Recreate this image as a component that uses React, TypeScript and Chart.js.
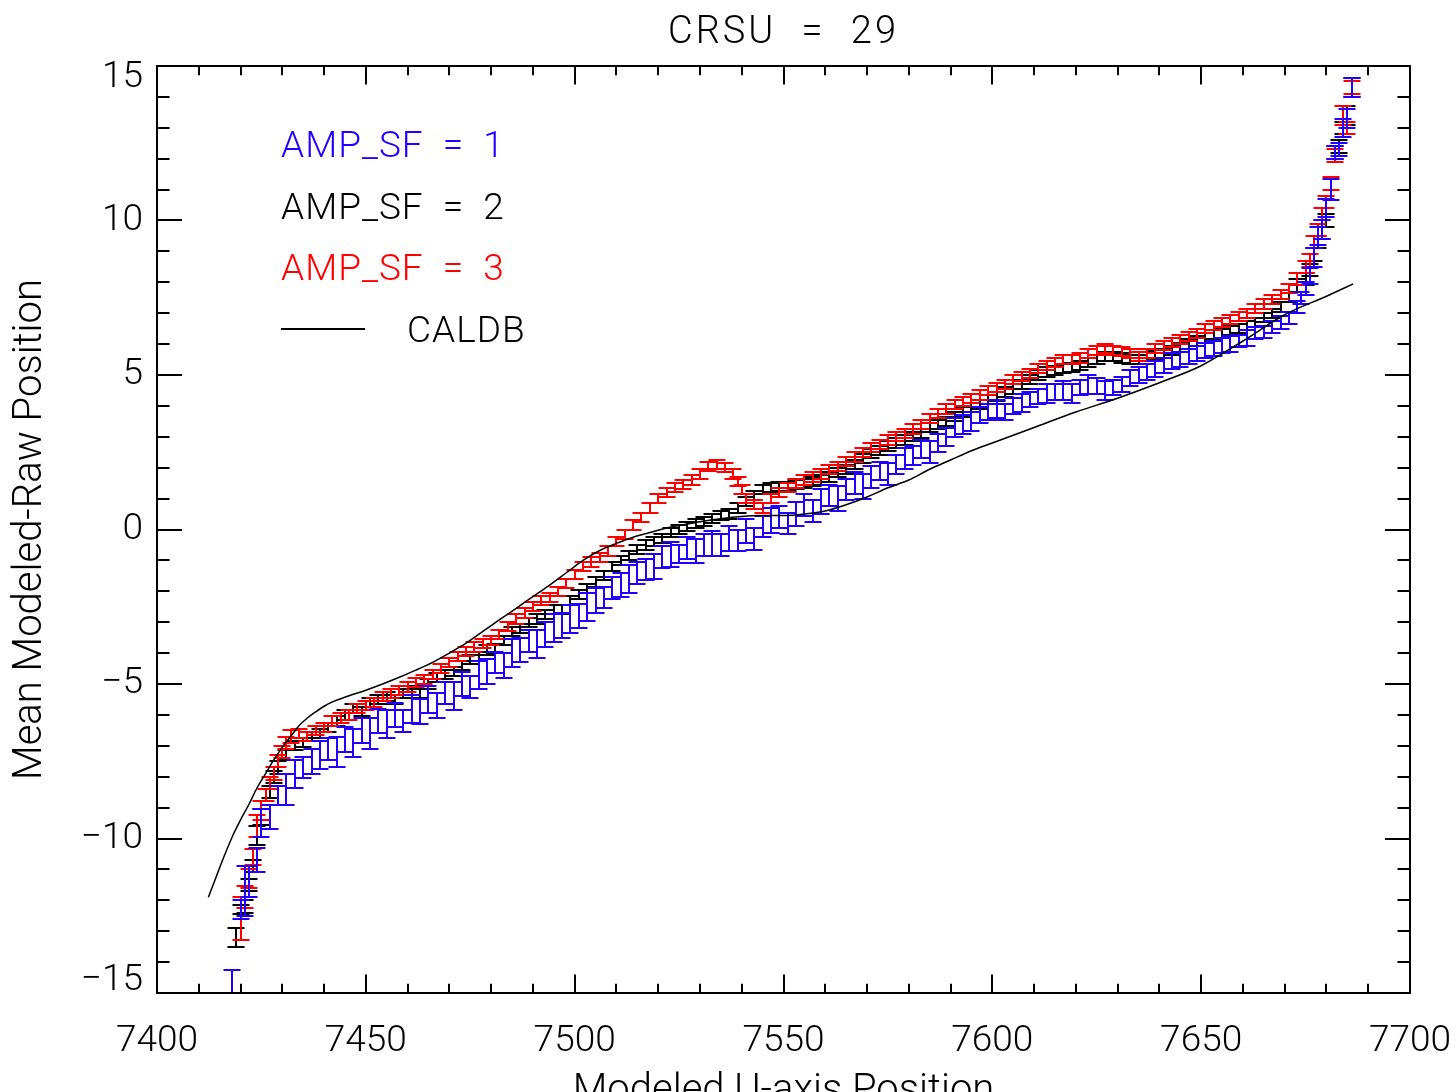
import React, { useEffect, useRef } from 'react';
import { Chart, registerables } from 'chart.js';

Chart.register(...registerables);

// ---------- text ----------
const TITLE = 'CRSU = 29';
const X_TITLE = 'Modeled U-axis Position';
const Y_TITLE = 'Mean Modeled-Raw Position';
const SERIES_LABELS = ['AMP_SF = 1', 'AMP_SF = 2', 'AMP_SF = 3'];
const CALDB_LABEL = 'CALDB';

// ---------- axes ----------
const X_MIN = 7400;
const X_MAX = 7700;
const X_MAJOR = 50;
const X_MINOR = 10;
const Y_MIN = -15;
const Y_MAX = 15;
const Y_MAJOR = 5;
const Y_MINOR = 1;

// ---------- AMP_SF = 1 (blue) ----------
const B_X = [
  7418, 7420, 7421, 7422, 7424, 7425, 7427, 7429, 7431, 7433,
  7435, 7437, 7439, 7441, 7443, 7445, 7447, 7449, 7451, 7453,
  7455, 7457, 7459, 7461, 7463, 7465, 7467, 7469, 7471, 7473,
  7475, 7477, 7479, 7481, 7483, 7485, 7487, 7489, 7491, 7493,
  7495, 7497, 7499, 7501, 7503, 7505, 7507, 7509, 7511, 7513,
  7515, 7517, 7519, 7521, 7523, 7525, 7527, 7529, 7531, 7533,
  7535, 7537, 7539, 7541, 7543, 7545, 7547, 7549, 7551, 7553,
  7555, 7557, 7559, 7561, 7563, 7565, 7567, 7569, 7571, 7573,
  7575, 7577, 7579, 7581, 7583, 7585, 7587, 7589, 7591, 7593,
  7595, 7597, 7599, 7601, 7603, 7605, 7607, 7609, 7611, 7613,
  7615, 7617, 7619, 7621, 7623, 7625, 7627, 7629, 7631, 7633,
  7635, 7637, 7639, 7641, 7643, 7645, 7647, 7649, 7651, 7653,
  7655, 7657, 7659, 7661, 7663, 7665, 7667, 7669, 7671, 7673,
  7674, 7675, 7676, 7677, 7678, 7679, 7680, 7681, 7682, 7683,
  7684, 7685, 7686, 7688,
];
const B_Y = [
  -14.9, -12.3, -11.7, -11.4, -10.7, -9.5, -9.3, -8.6, -8.4, -7.9,
  -7.7, -7.5, -7.3, -7.1, -7.2, -6.8, -6.9, -6.5, -6.6, -6.2,
  -6.3, -6.0, -6.2, -5.8, -5.9, -5.5, -5.7, -5.3, -5.4, -5.0,
  -5.1, -4.7, -4.6, -4.3, -4.4, -4.0, -3.9, -3.6, -3.7, -3.4,
  -3.2, -3.1, -2.9, -2.8, -2.5, -2.3, -2.2, -1.9, -1.8, -1.6,
  -1.4, -1.3, -1.2, -0.9, -0.8, -0.8, -0.6, -0.7, -0.5, -0.45,
  -0.5, -0.3, -0.35, -0.05, -0.3, 0.1, 0.3, 0.4, 0.2, 0.5,
  0.8, 0.6, 0.9, 1.1, 1.0, 1.3, 1.5, 1.4, 1.7, 1.9,
  1.8, 2.1, 2.3, 2.4, 2.6, 2.5, 2.8, 3.0, 3.3, 3.4,
  3.5, 3.7, 3.8, 3.9, 3.8, 4.0, 4.1, 4.2, 4.3, 4.4,
  4.45, 4.5, 4.4, 4.6, 4.7, 4.65, 4.5, 4.6, 4.7, 4.9,
  5.0, 5.1, 5.2, 5.3, 5.45, 5.5, 5.6, 5.7, 5.8, 5.85,
  5.95, 6.0, 6.1, 6.2, 6.35, 6.4, 6.55, 6.7, 6.85, 7.2,
  7.5, 7.8, 8.2, 8.8, 9.5, 9.7, 10.4, 11.0, 12.2, 12.3,
  13.0, 13.3, 14.3, 15.4,
];
const B_ERR = [
  0.65, 0.3, 0.8, 0.5, 0.4, 0.45, 0.4, 0.3, 0.5, 0.45,
  0.35, 0.4, 0.45, 0.35, 0.5, 0.4, 0.45, 0.4, 0.5, 0.4,
  0.45, 0.4, 0.35, 0.45, 0.4, 0.45, 0.4, 0.35, 0.45, 0.4,
  0.35, 0.45, 0.4, 0.35, 0.4, 0.45, 0.4, 0.35, 0.45, 0.4,
  0.45, 0.4, 0.45, 0.4, 0.45, 0.4, 0.35, 0.35, 0.4, 0.45,
  0.35, 0.35, 0.4, 0.35, 0.4, 0.3, 0.35, 0.4, 0.35, 0.4,
  0.35, 0.4, 0.35, 0.4, 0.35, 0.35, 0.4, 0.35, 0.35, 0.4,
  0.35, 0.35, 0.4, 0.35, 0.4, 0.35, 0.35, 0.4, 0.35, 0.3,
  0.35, 0.3, 0.35, 0.3, 0.3, 0.35, 0.3, 0.3, 0.3, 0.3,
  0.3, 0.25, 0.25, 0.3, 0.25, 0.25, 0.3, 0.25, 0.25, 0.3,
  0.25, 0.3, 0.3, 0.25, 0.3, 0.25, 0.3, 0.25, 0.25, 0.25,
  0.25, 0.25, 0.25, 0.25, 0.25, 0.25, 0.25, 0.25, 0.25, 0.25,
  0.25, 0.25, 0.2, 0.25, 0.2, 0.2, 0.2, 0.2, 0.2, 0.2,
  0.2, 0.2, 0.25, 0.3, 0.3, 0.3, 0.3, 0.35, 0.2, 0.2,
  0.3, 0.3, 0.3, 0.4,
];

// ---------- AMP_SF = 2 (black) ----------
const K_X = [
  7419, 7420, 7421, 7422, 7423, 7424, 7425, 7427, 7428, 7429,
  7431, 7433, 7435, 7437, 7439, 7441, 7443, 7445, 7447, 7449,
  7451, 7453, 7455, 7457, 7459, 7461, 7463, 7465, 7467, 7469,
  7471, 7473, 7475, 7477, 7479, 7481, 7483, 7485, 7487, 7489,
  7491, 7493, 7495, 7497, 7499, 7501, 7503, 7505, 7507, 7509,
  7511, 7513, 7515, 7517, 7519, 7521, 7523, 7525, 7527, 7529,
  7531, 7533, 7535, 7537, 7539, 7541, 7543, 7545, 7547, 7549,
  7551, 7553, 7555, 7557, 7559, 7561, 7563, 7565, 7567, 7569,
  7571, 7573, 7575, 7577, 7579, 7581, 7583, 7585, 7587, 7589,
  7591, 7593, 7595, 7597, 7599, 7601, 7603, 7605, 7607, 7609,
  7611, 7613, 7615, 7617, 7619, 7621, 7623, 7625, 7627, 7629,
  7631, 7633, 7635, 7637, 7639, 7641, 7643, 7645, 7647, 7649,
  7651, 7653, 7655, 7657, 7659, 7661, 7663, 7665, 7667, 7669,
  7671, 7673, 7675, 7676, 7677, 7678, 7679, 7680, 7682, 7683,
  7684, 7685, 7686,
];
const K_Y = [
  -13.2, -12.3, -12.2, -11.5, -10.9, -9.9, -9.3, -8.5, -8.0, -7.7,
  -7.3, -7.0, -6.9, -6.7, -6.6, -6.4, -6.2, -6.0, -5.8, -5.9,
  -5.6, -5.5, -5.4, -5.5, -5.3, -5.2, -5.3, -5.0, -4.8, -4.7,
  -4.6, -4.4, -4.2, -4.1, -3.9, -3.85, -3.6, -3.3, -3.2, -3.0,
  -2.9, -2.75, -2.6, -2.6, -2.3, -2.1, -1.9, -1.7, -1.5, -1.2,
  -1.0, -0.85, -0.65, -0.5, -0.4, -0.3, -0.1, 0.0, 0.1, 0.2,
  0.25, 0.35, 0.45, 0.5, 0.7, 0.9, 1.1, 1.3, 1.35, 1.4,
  1.4, 1.45, 1.5, 1.55, 1.6, 1.7, 1.85, 1.95, 2.1, 2.3,
  2.45, 2.55, 2.7, 2.8, 2.9, 3.0, 3.1, 3.3, 3.4, 3.5,
  3.65, 3.8, 3.95, 4.05, 4.2, 4.3, 4.45, 4.55, 4.7, 4.85,
  5.0, 5.1, 5.15, 5.2, 5.25, 5.3, 5.4, 5.5, 5.6, 5.6,
  5.55, 5.5, 5.5, 5.6, 5.65, 5.7, 5.8, 5.9, 6.0, 6.1,
  6.2, 6.3, 6.35, 6.45, 6.5, 6.6, 6.7, 6.85, 7.0, 7.2,
  7.5, 7.9, 8.1, 8.4, 8.9, 9.3, 9.6, 10.0, 12.2, 12.4,
  13.0, 13.4, 14.3,
];
const K_ERR = [
  0.3, 0.15, 0.2, 0.2, 0.2, 0.3, 0.25, 0.2, 0.2, 0.2,
  0.15, 0.15, 0.15, 0.15, 0.15, 0.15, 0.15, 0.15, 0.15, 0.15,
  0.15, 0.15, 0.15, 0.15, 0.15, 0.15, 0.15, 0.15, 0.15, 0.15,
  0.15, 0.15, 0.15, 0.15, 0.15, 0.15, 0.15, 0.15, 0.15, 0.15,
  0.15, 0.15, 0.15, 0.15, 0.15, 0.15, 0.15, 0.15, 0.15, 0.15,
  0.15, 0.15, 0.15, 0.15, 0.15, 0.15, 0.15, 0.15, 0.15, 0.15,
  0.15, 0.15, 0.15, 0.15, 0.15, 0.15, 0.15, 0.15, 0.15, 0.15,
  0.15, 0.15, 0.15, 0.15, 0.15, 0.15, 0.15, 0.15, 0.15, 0.15,
  0.15, 0.15, 0.15, 0.15, 0.15, 0.15, 0.15, 0.15, 0.15, 0.15,
  0.15, 0.15, 0.15, 0.15, 0.15, 0.15, 0.15, 0.15, 0.15, 0.15,
  0.15, 0.15, 0.15, 0.15, 0.15, 0.15, 0.15, 0.15, 0.15, 0.15,
  0.15, 0.15, 0.15, 0.15, 0.15, 0.15, 0.15, 0.15, 0.15, 0.15,
  0.15, 0.15, 0.15, 0.15, 0.15, 0.15, 0.15, 0.15, 0.15, 0.15,
  0.15, 0.2, 0.2, 0.2, 0.2, 0.2, 0.2, 0.2, 0.2, 0.2,
  0.2, 0.3, 0.3,
];

// ---------- AMP_SF = 3 (red) ----------
const R_X = [
  7418, 7420, 7421, 7422, 7423, 7424, 7425, 7426, 7427, 7428,
  7429, 7430, 7431, 7432, 7434, 7436, 7438, 7440, 7442, 7444,
  7446, 7448, 7450, 7452, 7454, 7456, 7458, 7460, 7462, 7464,
  7466, 7468, 7470, 7472, 7474, 7476, 7478, 7480, 7482, 7484,
  7486, 7488, 7490, 7492, 7494, 7496, 7498, 7500, 7502, 7504,
  7506, 7508, 7510, 7512, 7514, 7516, 7518, 7520, 7522, 7524,
  7526, 7528, 7530, 7532, 7534, 7536, 7538, 7539, 7540, 7541,
  7543, 7545, 7547, 7549, 7551, 7553, 7555, 7557, 7559, 7561,
  7563, 7565, 7567, 7569, 7571, 7573, 7575, 7577, 7579, 7581,
  7583, 7585, 7587, 7589, 7591, 7593, 7595, 7597, 7599, 7601,
  7603, 7605, 7607, 7609, 7611, 7613, 7615, 7617, 7619, 7621,
  7623, 7625, 7627, 7629, 7631, 7633, 7635, 7637, 7639, 7641,
  7643, 7645, 7647, 7649, 7651, 7653, 7655, 7657, 7659, 7661,
  7663, 7665, 7667, 7669, 7671, 7673, 7675, 7676, 7677, 7678,
  7679, 7680, 7681, 7682, 7684, 7685, 7686,
];
const R_Y = [
  -15.3, -12.6, -11.9, -11.3, -10.6, -9.6, -9.1, -8.6, -8.2, -7.9,
  -7.5, -7.2, -6.9, -6.7, -6.6, -6.7, -6.5, -6.4, -6.2, -6.1,
  -6.0, -5.8, -5.7, -5.6, -5.4, -5.3, -5.2, -5.1, -4.95, -4.85,
  -4.7, -4.5, -4.3, -4.1, -3.95, -3.8, -3.7, -3.6, -3.4, -3.15,
  -2.9, -2.7, -2.5, -2.3, -2.2, -2.0, -1.75, -1.45, -1.2, -1.05,
  -0.9, -0.7, -0.4, -0.15, 0.15, 0.4, 0.7, 1.0, 1.2, 1.35,
  1.45, 1.6, 1.8, 2.05, 2.1, 2.0, 1.8, 1.55, 1.3, 1.0,
  0.8, 0.7, 1.0, 1.2, 1.35, 1.5, 1.6, 1.7, 1.8, 1.95,
  2.05, 2.2, 2.35, 2.5, 2.65, 2.75, 2.9, 3.0, 3.1, 3.25,
  3.4, 3.6, 3.75, 3.9, 4.05, 4.15, 4.25, 4.35, 4.5, 4.6,
  4.7, 4.85, 4.95, 5.05, 5.2, 5.3, 5.4, 5.5, 5.5, 5.55,
  5.7, 5.8, 5.85, 5.8, 5.75, 5.7, 5.6, 5.7, 5.85, 5.95,
  6.05, 6.15, 6.25, 6.35, 6.5, 6.6, 6.7, 6.8, 6.9, 7.0,
  7.15, 7.3, 7.45, 7.6, 7.8, 8.1, 8.5, 8.7, 9.3, 9.7,
  10.2, 10.6, 11.2, 12.1, 13.4, 13.0, 14.3,
];
const R_ERR = [
  0.3, 0.7, 0.35, 0.3, 0.25, 0.35, 0.3, 0.2, 0.2, 0.2,
  0.2, 0.2, 0.2, 0.2, 0.15, 0.15, 0.15, 0.15, 0.15, 0.15,
  0.15, 0.15, 0.15, 0.15, 0.15, 0.15, 0.15, 0.15, 0.15, 0.15,
  0.15, 0.15, 0.15, 0.15, 0.15, 0.15, 0.15, 0.15, 0.15, 0.15,
  0.15, 0.15, 0.15, 0.15, 0.15, 0.15, 0.15, 0.15, 0.15, 0.15,
  0.15, 0.15, 0.15, 0.15, 0.15, 0.15, 0.15, 0.15, 0.15, 0.15,
  0.15, 0.15, 0.15, 0.15, 0.15, 0.15, 0.15, 0.15, 0.15, 0.15,
  0.15, 0.15, 0.15, 0.15, 0.15, 0.15, 0.15, 0.15, 0.15, 0.15,
  0.15, 0.15, 0.15, 0.15, 0.15, 0.15, 0.15, 0.15, 0.15, 0.15,
  0.15, 0.15, 0.15, 0.15, 0.15, 0.15, 0.15, 0.15, 0.15, 0.15,
  0.15, 0.15, 0.15, 0.15, 0.15, 0.15, 0.15, 0.15, 0.15, 0.15,
  0.15, 0.15, 0.15, 0.15, 0.15, 0.15, 0.15, 0.15, 0.15, 0.15,
  0.15, 0.15, 0.15, 0.15, 0.15, 0.15, 0.15, 0.15, 0.15, 0.15,
  0.15, 0.15, 0.15, 0.15, 0.15, 0.2, 0.2, 0.2, 0.2, 0.2,
  0.2, 0.2, 0.2, 0.2, 0.3, 0.2, 0.2,
];

// ---------- CALDB curve ----------
const C_X = [
  7412.3, 7414, 7416, 7418, 7420, 7422, 7424, 7426, 7428, 7430,
  7432, 7434, 7436, 7438, 7440, 7442, 7446, 7450, 7454, 7458,
  7462, 7466, 7470, 7474, 7478, 7482, 7486, 7490, 7494, 7498,
  7502, 7506, 7510, 7514, 7518, 7522, 7526, 7530, 7535, 7540,
  7545, 7550, 7555, 7560, 7565, 7570, 7575, 7580, 7585, 7590,
  7595, 7600, 7610, 7620, 7630, 7640, 7650, 7660, 7670, 7680,
  7686.4,
];
const C_Y = [
  -11.9, -11.3, -10.6, -9.95, -9.4, -8.9, -8.35, -7.9, -7.45, -7.05,
  -6.7, -6.35, -6.1, -5.9, -5.72, -5.58, -5.38, -5.2, -5.0, -4.78,
  -4.55, -4.3, -4.0, -3.68, -3.3, -2.92, -2.55, -2.17, -1.8, -1.4,
  -1.0, -0.68, -0.45, -0.25, -0.1, 0.05, 0.15, 0.25, 0.35, 0.42,
  0.45, 0.45, 0.5, 0.6, 0.8, 1.05, 1.35, 1.6, 1.95, 2.25,
  2.55, 2.8, 3.3, 3.8, 4.25, 4.75, 5.3, 6.1, 6.95, 7.55,
  7.95,
];

const COLORS = ['#2200ff', '#000000', '#ff0000'];
const FONT_FAMILY = 'Roboto, "Liberation Sans", sans-serif';
const FONT_WEIGHT = '300';

const CAP = 8.5;
const ERR_LW = 2;

function zipPoints(xs: number[], ys: number[], es: number[]) {
  const n = Math.min(xs.length, ys.length, es.length);
  const out: { x: number; y: number; e: number }[] = [];
  for (let i = 0; i < n; i++) out.push({ x: xs[i], y: ys[i], e: es[i] });
  return out;
}
function zipLine(xs: number[], ys: number[]) {
  const n = Math.min(xs.length, ys.length);
  const out: { x: number; y: number }[] = [];
  for (let i = 0; i < n; i++) out.push({ x: xs[i], y: ys[i] });
  return out;
}

const errorBarPlugin = {
  id: 'errorBars',
  afterDatasetDraw(chart: any, args: any) {
    const ds = chart.data.datasets[args.index];
    if (!ds.isErr) return;
    const ctx = chart.ctx;
    const ys = chart.scales.y;
    const a = chart.chartArea;
    ctx.save();
    ctx.beginPath();
    ctx.rect(a.left, a.top - 1, a.right - a.left, a.bottom - a.top + 2);
    ctx.clip();
    ctx.strokeStyle = ds.borderColor;
    ctx.lineWidth = ERR_LW;
    ctx.beginPath();
    args.meta.data.forEach((pt: any, i: number) => {
      const d = ds.data[i];
      if (!d) return;
      const px = Math.round(pt.x);
      const y1 = Math.round(ys.getPixelForValue(d.y - d.e));
      const y2 = Math.round(ys.getPixelForValue(d.y + d.e));
      ctx.moveTo(px, y1);
      ctx.lineTo(px, y2);
      ctx.moveTo(px - CAP, y1);
      ctx.lineTo(px + CAP, y1);
      ctx.moveTo(px - CAP, y2);
      ctx.lineTo(px + CAP, y2);
    });
    ctx.stroke();
    ctx.restore();
  },
};

function setSpacing(ctx: any, letter: string, word: string) {
  try { ctx.letterSpacing = letter; } catch (e) {}
  try { ctx.wordSpacing = word; } catch (e) {}
}

const framePlugin = {
  id: 'frameTicks',
  afterDraw(chart: any) {
    const ctx = chart.ctx;
    const a = chart.chartArea;
    const xs = chart.scales.x;
    const ys = chart.scales.y;
    const w = a.right - a.left;
    const h = a.bottom - a.top;
    const xMajLen = 0.02 * h;
    const xMinLen = 0.01 * h;
    const yMajLen = 0.02 * w;
    const yMinLen = 0.01 * w;
    ctx.save();
    ctx.strokeStyle = '#000';
    ctx.lineWidth = 2;
    ctx.strokeRect(a.left, a.top, w, h);
    ctx.beginPath();
    for (let v = X_MIN; v <= X_MAX + 1e-9; v += X_MINOR) {
      const px = Math.round(xs.getPixelForValue(v));
      const major = Math.abs((v - X_MIN) % X_MAJOR) < 1e-9;
      const len = major ? xMajLen : xMinLen;
      ctx.moveTo(px, a.bottom);
      ctx.lineTo(px, a.bottom - len);
      ctx.moveTo(px, a.top);
      ctx.lineTo(px, a.top + len);
    }
    for (let v = Y_MIN; v <= Y_MAX + 1e-9; v += Y_MINOR) {
      const py = Math.round(ys.getPixelForValue(v));
      const major = Math.abs((v - Y_MIN) % Y_MAJOR) < 1e-9;
      const len = major ? yMajLen : yMinLen;
      ctx.moveTo(a.left, py);
      ctx.lineTo(a.left + len, py);
      ctx.moveTo(a.right, py);
      ctx.lineTo(a.right - len, py);
    }
    ctx.stroke();

    // title
    ctx.fillStyle = '#000';
    ctx.font = `${FONT_WEIGHT} 38px ${FONT_FAMILY}`;
    ctx.textAlign = 'center';
    ctx.textBaseline = 'middle';
    setSpacing(ctx, '3px', '13px');
    ctx.fillText(TITLE, (a.left + a.right) / 2, 33);

    // legend
    setSpacing(ctx, '1px', '9px');
    ctx.font = `${FONT_WEIGHT} 37px ${FONT_FAMILY}`;
    ctx.textAlign = 'left';
    const lx = 281;
    const rows = [148, 210, 271];
    SERIES_LABELS.forEach((lab, i) => {
      ctx.fillStyle = COLORS[i];
      ctx.fillText(lab, lx, rows[i]);
    });
    ctx.strokeStyle = '#000';
    ctx.lineWidth = 2;
    ctx.beginPath();
    ctx.moveTo(lx, 329);
    ctx.lineTo(365, 329);
    ctx.stroke();
    ctx.fillStyle = '#000';
    ctx.fillText(CALDB_LABEL, 407, 333);
    setSpacing(ctx, '0px', '0px');
    ctx.restore();
  },
};

const minus = (n: number) => (n < 0 ? '\u2212' + Math.abs(n) : String(n));
const xTickFmt = (v: any) => minus(Number(v));
// edge labels nudged inward like the original plot (blank second line)
const yTickFmt = (v: any) => {
  const n = Number(v);
  if (n === Y_MAX) return ['', minus(n)];
  if (n === Y_MIN) return [minus(n), ''];
  return minus(n);
};

export default function App() {
  const ref = useRef<HTMLCanvasElement | null>(null);
  useEffect(() => {
    if (!ref.current) return;
    const xTickFont = { family: FONT_FAMILY, size: 37, weight: FONT_WEIGHT as any };
    const yTickFont = { family: FONT_FAMILY, size: 37, weight: FONT_WEIGHT as any, lineHeight: 0.66 };
    const titleFont = { family: FONT_FAMILY, size: 40, weight: FONT_WEIGHT as any, lineHeight: 1 };
    const chart = new Chart(ref.current, {
      type: 'scatter',
      data: {
        datasets: [
          {
            label: CALDB_LABEL,
            data: zipLine(C_X, C_Y),
            showLine: true,
            borderColor: '#000',
            borderWidth: 1.5,
            pointRadius: 0,
            cubicInterpolationMode: 'monotone',
            order: 0,
          } as any,
          {
            label: SERIES_LABELS[0],
            data: zipPoints(B_X, B_Y, B_ERR),
            borderColor: COLORS[0],
            backgroundColor: COLORS[0],
            pointRadius: 0,
            isErr: true,
            order: 1,
          } as any,
          {
            label: SERIES_LABELS[2],
            data: zipPoints(R_X, R_Y, R_ERR),
            borderColor: COLORS[2],
            backgroundColor: COLORS[2],
            pointRadius: 0,
            isErr: true,
            order: 2,
          } as any,
          {
            label: SERIES_LABELS[1],
            data: zipPoints(K_X, K_Y, K_ERR),
            borderColor: COLORS[1],
            backgroundColor: COLORS[1],
            pointRadius: 0,
            isErr: true,
            order: 3,
          } as any,
        ],
      },
      options: {
        responsive: false,
        animation: false,
        devicePixelRatio: 1,
        layout: { padding: { top: 66, right: 46, bottom: 0, left: 0 } },
        plugins: {
          legend: { display: false },
          tooltip: { enabled: false },
          title: { display: false },
        },
        scales: {
          x: {
            type: 'linear',
            min: X_MIN,
            max: X_MAX,
            ticks: {
              stepSize: X_MAJOR,
              autoSkip: false,
              maxRotation: 0,
              minRotation: 0,
              padding: 27,
              color: '#000',
              font: xTickFont,
              callback: xTickFmt,
            },
            grid: { display: false, drawTicks: false },
            border: { display: false },
            title: {
              display: true,
              text: X_TITLE,
              color: '#000',
              font: titleFont,
              padding: { top: 0, bottom: -20 },
            },
            afterFit: (s: any) => {
              s.height = 99;
              s.paddingLeft = 0;
              s.paddingRight = 0;
            },
          },
          y: {
            type: 'linear',
            min: Y_MIN,
            max: Y_MAX,
            ticks: {
              stepSize: Y_MAJOR,
              autoSkip: false,
              padding: 14,
              color: '#000',
              font: yTickFont,
              callback: yTickFmt,
            },
            grid: { display: false, drawTicks: false },
            border: { display: false },
            title: {
              display: true,
              text: Y_TITLE,
              color: '#000',
              font: titleFont,
              padding: { top: 11, bottom: 0 },
            },
            afterFit: (s: any) => {
              s.width = 157;
              s.paddingTop = 0;
              s.paddingBottom = 0;
            },
          },
        },
      } as any,
      plugins: [errorBarPlugin, framePlugin],
    });
    return () => chart.destroy();
  }, []);
  return (
    <div style={{ position: 'fixed', left: 0, top: 0, width: 1456, height: 1092, background: '#fff' }}>
      <canvas ref={ref} width={1456} height={1092} style={{ display: 'block' }} />
    </div>
  );
}
